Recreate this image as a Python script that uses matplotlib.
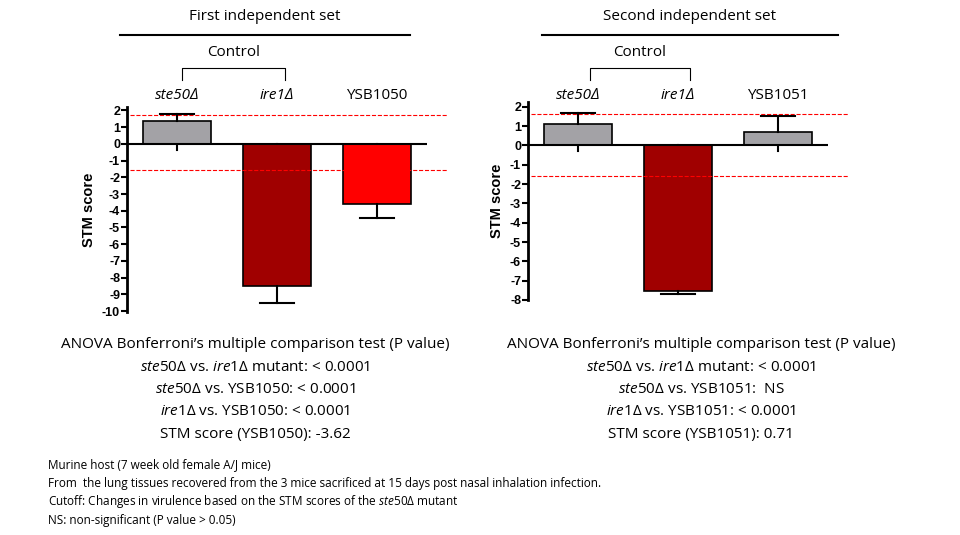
import matplotlib.pyplot as plt
from matplotlib.lines import Line2D

plt.rcParams["font.family"] = ["Open Sans", "DejaVu Sans"]
plt.rcParams["mathtext.fontset"] = "custom"
plt.rcParams["mathtext.rm"] = "Open Sans"
plt.rcParams["mathtext.it"] = "Open Sans:italic"

# data
strains_1 = ["ste50Δ", "ire1Δ", "YSB1050"]
scores_1 = [1.35, -8.5, -3.62]
err_1 = [0.45, 1.0, 0.8]
colors_1 = ["#a3a2a6", "#a00000", "#ff0000"]
cutoff_1 = [1.72, -1.55]

strains_2 = ["ste50Δ", "ire1Δ", "YSB1051"]
scores_2 = [1.13, -7.55, 0.71]
err_2 = [0.54, 0.15, 0.79]
colors_2 = ["#a3a2a6", "#a00000", "#a3a2a6"]
cutoff_2 = [1.65, -1.6]

W, H = 960, 535
fig = plt.figure(figsize=(9.6, 5.35), dpi=100)


def px_axes(x0, y0, x1, y1):
    return fig.add_axes([x0 / W, 1 - y1 / H, (x1 - x0) / W, (y1 - y0) / H])


def fx(x):
    return x / W


def fy(y):
    return 1 - y / H


def draw_panel(ax, scores, errs, colors, cutoffs, ylim, yticks):
    xs = range(len(scores))
    ax.bar(xs, scores, width=0.68, color=colors, edgecolor="black", linewidth=1.2, zorder=2)
    for x, v, e in zip(xs, scores, errs):
        end = v + e if v > 0 else v - e
        ax.plot([x, x], [v, end], color="black", lw=1.5, zorder=3)
        ax.plot([x - 0.17, x + 0.17], [end, end], color="black", lw=1.5, zorder=3)
        ax.plot([x, x], [0, -0.12 * (ylim[1] - ylim[0]) / 12 * 3], color="black", lw=1.5, zorder=1)
    ax.axhline(0, color="black", lw=1.5, zorder=4)
    for c in cutoffs:
        ax.axhline(c, xmin=0.01, xmax=1.07, color="red", lw=0.8, ls="--", clip_on=False)
    ax.set_xlim(-0.5, 2.5)
    ax.set_ylim(*ylim)
    ax.set_yticks(yticks)
    ax.set_yticklabels([str(t) for t in yticks], fontfamily="Liberation Sans",
                       fontweight="bold", fontsize=9)
    ax.tick_params(axis="y", width=1.5, length=4, pad=1)
    ax.set_xticks([])
    for s in ("top", "right", "bottom"):
        ax.spines[s].set_visible(False)
    ax.spines["left"].set_linewidth(2)
    ax.set_ylabel("STM score", fontfamily="Liberation Sans", fontweight="bold", fontsize=10.5)


ax1 = px_axes(127, 107, 427, 312)
draw_panel(ax1, scores_1, err_1, colors_1, cutoff_1, (-10.05, 2.2), list(range(2, -11, -1)))
ax2 = px_axes(528, 102, 828, 300)
draw_panel(ax2, scores_2, err_2, colors_2, cutoff_2, (-8.0, 2.25), list(range(2, -9, -1)))


def header(title, cx, lx0, lx1, centers, strains, bx0, bx1):
    fig.text(fx(cx), fy(16), title, ha="center", va="center", fontsize=11)
    fig.add_artist(Line2D([fx(lx0), fx(lx1)], [fy(35), fy(35)], color="black", lw=1.5))
    fig.text(fx((bx0 + bx1) / 2), fy(52), "Control", ha="center", va="center", fontsize=11)
    fig.add_artist(Line2D([fx(bx0), fx(bx0), fx(bx1), fx(bx1)],
                          [fy(80), fy(68), fy(68), fy(80)], color="black", lw=0.8))
    for c, s in zip(centers, strains):
        style = "normal" if s.startswith("YSB") else "italic"
        fig.text(fx(c), fy(96), s, ha="center", va="center", fontsize=11, style=style)


header("First independent set", 265, 120, 410, [177, 277, 377], strains_1, 182, 285)
header("Second independent set", 690, 542, 838, [578, 678, 778], strains_2, 590, 690)

lines_1 = [
    "ANOVA Bonferroni’s multiple comparison test (P value)",
    r"$\mathit{ste50\Delta}$ vs. $\mathit{ire1\Delta}$ mutant: < 0.0001",
    r"$\mathit{ste50\Delta}$ vs. YSB1050: < 0.0001",
    r"$\mathit{ire1\Delta}$ vs. YSB1050: < 0.0001",
    "STM score (YSB1050): -3.62",
]
lines_2 = [
    "ANOVA Bonferroni’s multiple comparison test (P value)",
    r"$\mathit{ste50\Delta}$ vs. $\mathit{ire1\Delta}$ mutant: < 0.0001",
    r"$\mathit{ste50\Delta}$ vs. YSB1051:  NS",
    r"$\mathit{ire1\Delta}$ vs. YSB1051: < 0.0001",
    "STM score (YSB1051): 0.71",
]
for i, (a, b) in enumerate(zip(lines_1, lines_2)):
    y = fy(345 + 22.3 * i)
    fig.text(fx(255), y, a, ha="center", va="center", fontsize=11)
    fig.text(fx(701), y, b, ha="center", va="center", fontsize=11)

notes = [
    "Murine host (7 week old female A/J mice)",
    "From  the lung tissues recovered from the 3 mice sacrificed at 15 days post nasal inhalation infection.",
    r"Cutoff: Changes in virulence based on the STM scores of the $\mathit{ste50\Delta}$ mutant",
    "NS: non-significant (P value > 0.05)",
]
for i, n in enumerate(notes):
    fig.text(fx(48), fy(465 + 18.5 * i), n, ha="left", va="center", fontsize=8.5)

fig.savefig("out.png", dpi=100)
